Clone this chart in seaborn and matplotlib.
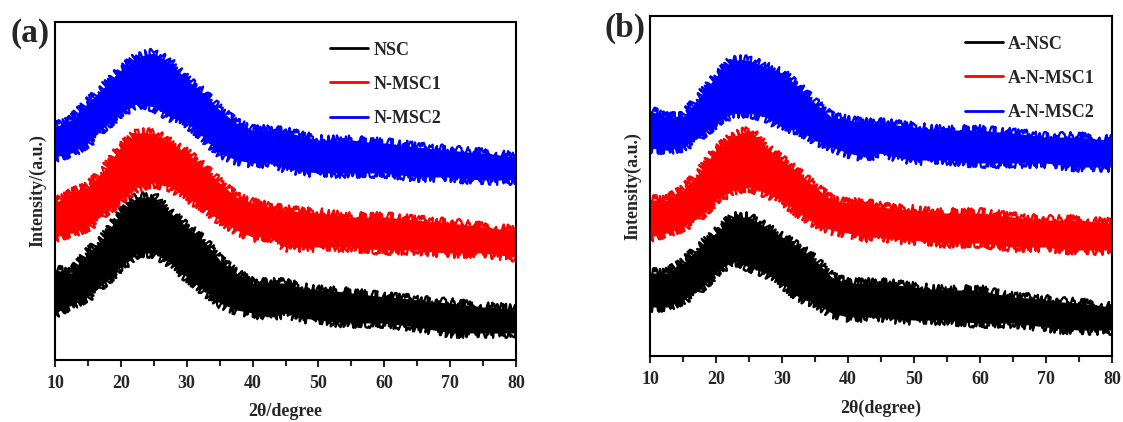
import matplotlib
matplotlib.use("Agg")
import matplotlib.pyplot as plt
import seaborn as sns

theta = [10, 12.5, 15, 17.5, 20, 22.5, 25, 27.5, 30, 32.5, 35, 37.5, 40, 42.5, 45,
         47.5, 50, 52.5, 55, 57.5, 60, 62.5, 65, 67.5, 70, 72.5, 75, 77.5, 80]

# panel (a): upper / lower edge of each noisy trace (arbitrary units)
nsc_hi = [90, 87, 107, 123, 147, 163, 163, 147, 133, 120, 100, 87, 77, 77, 77, 72, 70, 69, 67, 65, 63, 62, 60, 58, 57, 55, 53, 52, 50]
nsc_lo = [47, 55, 63, 77, 93, 107, 107, 97, 83, 70, 57, 50, 47, 43, 47, 42, 40, 38, 37, 37, 37, 35, 33, 30, 27, 27, 27, 27, 27]
nmsc1_hi = [157, 167, 173, 190, 213, 227, 227, 217, 207, 193, 177, 163, 157, 153, 150, 148, 147, 145, 143, 143, 143, 141, 140, 138, 137, 135, 133, 131, 130]
nmsc1_lo = [123, 127, 133, 147, 160, 173, 177, 173, 163, 153, 140, 130, 123, 123, 113, 113, 113, 113, 113, 111, 110, 110, 110, 108, 107, 107, 107, 105, 103]
nmsc2_hi = [233, 240, 257, 273, 290, 303, 307, 297, 280, 267, 250, 237, 230, 230, 228, 224, 220, 220, 220, 218, 217, 215, 213, 211, 210, 208, 207, 205, 203]
nmsc2_lo = [203, 207, 217, 233, 247, 257, 253, 243, 237, 223, 207, 200, 197, 197, 192, 189, 187, 187, 187, 187, 187, 185, 183, 183, 183, 181, 180, 180, 180]

# panel (b)
ansc_hi = [83, 83, 93, 109, 123, 139, 139, 129, 119, 109, 96, 79, 73, 73, 73, 71, 69, 67, 66, 66, 66, 62, 59, 58, 56, 54, 53, 51, 49]
ansc_lo = [49, 49, 56, 66, 83, 96, 89, 83, 73, 59, 53, 43, 39, 39, 39, 37, 36, 36, 36, 34, 33, 33, 33, 31, 29, 27, 26, 26, 26]
anmsc1_hi = [156, 156, 166, 183, 206, 219, 226, 209, 196, 183, 169, 156, 153, 153, 149, 147, 146, 144, 143, 143, 143, 141, 139, 137, 136, 136, 136, 134, 133]
anmsc1_lo = [119, 123, 129, 139, 156, 166, 169, 163, 156, 143, 133, 126, 123, 119, 119, 117, 116, 114, 113, 113, 113, 111, 109, 109, 109, 107, 106, 106, 106]
anmsc2_hi = [245, 239, 239, 259, 279, 296, 296, 289, 283, 269, 253, 239, 236, 233, 233, 231, 229, 227, 226, 226, 226, 224, 223, 221, 219, 219, 219, 217, 216]
anmsc2_lo = [208, 206, 209, 219, 233, 243, 243, 239, 229, 226, 216, 209, 203, 199, 203, 199, 196, 196, 196, 194, 193, 193, 193, 193, 193, 191, 189, 189, 189]

xticks = [10, 20, 30, 40, 50, 60, 70, 80]

sns.set_style("ticks")
plt.rcParams['font.family'] = ['Liberation Serif', 'DejaVu Serif']
plt.rcParams['font.weight'] = 'bold'

fig = plt.figure(figsize=(11.23, 4.22), dpi=100)
ax_a = fig.add_axes([0.049, 0.147, 0.4105, 0.801])
ax_b = fig.add_axes([0.5788, 0.1564, 0.4114, 0.8057])

# jagged look of the raw scan, as a drawing style on the band edges only
NOISE = (5, 2, 5)


def draw_panel(ax, series, ylim, xlabel, ylabel, tag, leg_x):
    for name, hi, lo, col in series:
        n0 = len(ax.lines)
        sns.lineplot(x=theta, y=hi, color=col, lw=1.6, label=name, ax=ax)
        sns.lineplot(x=theta, y=lo, color=col, lw=1.6, legend=False, ax=ax)
        for ln in ax.lines[n0:]:
            ln.set_sketch_params(*NOISE)
        ax.fill_between(theta, lo, hi, color=col, lw=0)
    ax.set_xlim(10, 80)
    ax.set_ylim(*ylim)
    ax.set_xticks(xticks)
    ax.set_xticks([15, 25, 35, 45, 55, 65, 75], minor=True)
    ax.set_yticks([])
    ax.tick_params(axis='x', which='major', direction='out', length=5, width=1.5, labelsize=13, pad=6)
    ax.tick_params(axis='x', which='minor', direction='out', length=4, width=1.5)
    for lab in ax.get_xticklabels():
        lab.set_fontweight('bold')
    for sp in ax.spines.values():
        sp.set_visible(True)
        sp.set_linewidth(1.5)
        sp.set_color('black')
    ax.set_xlabel(xlabel, fontsize=13, fontweight='bold', labelpad=8)
    ax.set_ylabel(ylabel, fontsize=13, fontweight='bold', labelpad=6)
    leg = ax.legend(loc='upper left', bbox_to_anchor=(leg_x, 0.99), frameon=False,
                    handlelength=2.1, handletextpad=0.3, labelspacing=0.95,
                    prop={'size': 13, 'weight': 'bold'})
    for line in leg.get_lines():
        line.set_linewidth(2.0)
        line.set_sketch_params(None)
    ax.text(-0.055, 0.965, tag, transform=ax.transAxes, fontsize=24, fontweight='bold',
            ha='center', va='center')


draw_panel(ax_a,
           [("NSC", nsc_hi, nsc_lo, 'black'),
            ("N-MSC1", nmsc1_hi, nmsc1_lo, 'red'),
            ("N-MSC2", nmsc2_hi, nmsc2_lo, 'blue')],
           (0, 338), "2\u03b8/degree", "Intensity/(a.u.)", "(a)", 0.561)
draw_panel(ax_b,
           [("A-NSC", ansc_hi, ansc_lo, 'black'),
            ("A-N-MSC1", anmsc1_hi, anmsc1_lo, 'red'),
            ("A-N-MSC2", anmsc2_hi, anmsc2_lo, 'blue')],
           (0, 340), "2\u03b8(degree)", "Intensity(a.u.)", "(b)", 0.646)

fig.savefig("out.png", dpi=100)
